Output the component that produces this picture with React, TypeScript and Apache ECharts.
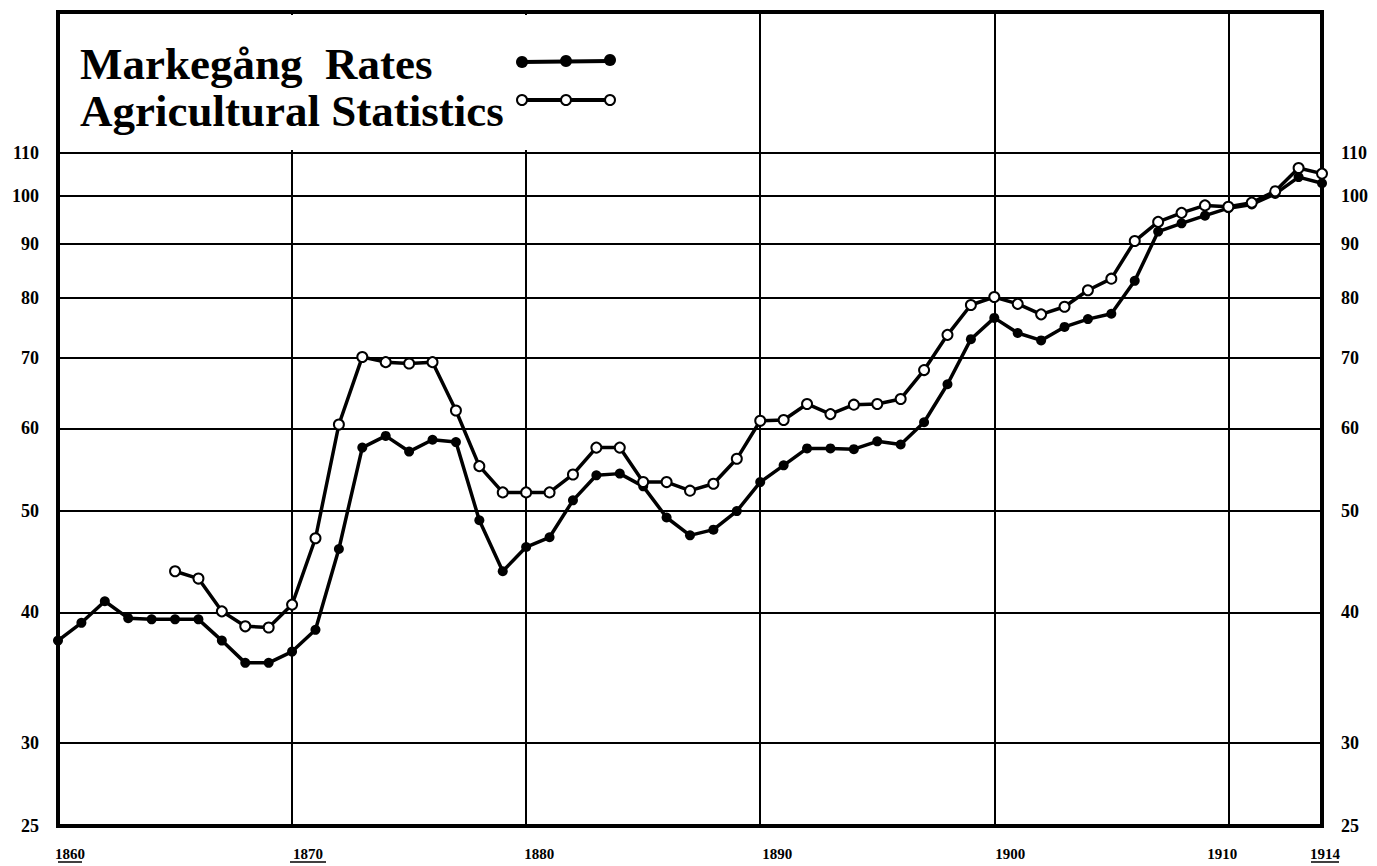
import React, { useEffect, useRef } from "react";
import * as echarts from "echarts";

const years = [
  1860, 1861, 1862, 1863, 1864, 1865, 1866, 1867, 1868, 1869,
  1870, 1871, 1872, 1873, 1874, 1875, 1876, 1877, 1878, 1879,
  1880, 1881, 1882, 1883, 1884, 1885, 1886, 1887, 1888, 1889,
  1890, 1891, 1892, 1893, 1894, 1895, 1896, 1897, 1898, 1899,
  1900, 1901, 1902, 1903, 1904, 1905, 1906, 1907, 1908, 1909,
  1910, 1911, 1912, 1913, 1914,
];

const markegangRates = [
  37.6, 39.1, 41.0, 39.5, 39.4, 39.4, 39.4, 37.6, 35.8, 35.8,
  36.7, 38.5, 46.0, 57.5, 59.0, 57.0, 58.5, 58.2, 49.0, 43.8,
  46.2, 47.2, 51.2, 54.1, 54.3, 52.8, 49.3, 47.4, 48.0, 50.0,
  53.3, 55.3, 57.4, 57.4, 57.3, 58.3, 57.9, 60.8, 66.1, 73.0,
  76.5, 74.0, 72.8, 75.0, 76.3, 77.2, 83.0, 92.5, 94.2, 95.8,
  97.4, 98.2, 100.5, 104.3, 102.9,
];

const agriculturalYears = [
  1865, 1866, 1867, 1868, 1869,
  1870, 1871, 1872, 1873, 1874, 1875, 1876, 1877, 1878, 1879,
  1880, 1881, 1882, 1883, 1884, 1885, 1886, 1887, 1888, 1889,
  1890, 1891, 1892, 1893, 1894, 1895, 1896, 1897, 1898, 1899,
  1900, 1901, 1902, 1903, 1904, 1905, 1906, 1907, 1908, 1909,
  1910, 1911, 1912, 1913, 1914,
];

const agriculturalStats = [
  43.8, 43.1, 40.1, 38.8, 38.7,
  40.7, 47.1, 60.5, 70.2, 69.4, 69.2, 69.4, 62.4, 55.2, 52.1,
  52.1, 52.1, 54.2, 57.5, 57.5, 53.3, 53.3, 52.3, 53.1, 56.1,
  61.0, 61.1, 63.3, 61.9, 63.2, 63.3, 64.0, 68.2, 73.7, 78.7,
  80.1, 78.9, 77.1, 78.4, 81.3, 83.4, 90.6, 94.5, 96.4, 98.0,
  97.7, 98.6, 101.1, 106.4, 105.1,
];

const yTickValues = [25, 30, 40, 50, 60, 70, 80, 90, 100, 110];
const xTickValues = [1860, 1870, 1880, 1890, 1900, 1910, 1914];
const legendNames = ["Markegång  Rates", "Agricultural Statistics"];

const SERIF = '"Liberation Serif", "DejaVu Serif", serif';

export default function App() {
  const ref = useRef<HTMLDivElement>(null);

  useEffect(() => {
    if (!ref.current) return;
    const chart = echarts.init(ref.current, null, { renderer: "svg" });

    const xLabelRich: Record<string, any> = {
      l1860: { padding: [0, 0, 0, 24] },
      l1870: { padding: [0, 0, 0, 32] },
      l1880: { padding: [0, 0, 0, 26] },
      l1890: { padding: [0, 0, 0, 34] },
      l1900: { padding: [0, 0, 0, 32] },
      l1910: { padding: [0, 12, 0, 0] },
      l1914: { padding: [0, 0, 0, 6] },
    };
    Object.keys(xLabelRich).forEach((k) => {
      xLabelRich[k] = {
        ...xLabelRich[k],
        fontFamily: SERIF,
        fontWeight: "bold",
        fontSize: 15,
        color: "#000",
      };
    });

    const yLabelStyle = {
      customValues: yTickValues,
      fontFamily: SERIF,
      fontWeight: "bold" as const,
      fontSize: 18,
      color: "#000",
      margin: 19,
    };

    const underline = (x1: number, x2: number) => ({
      type: "line",
      z: 60,
      shape: { x1, y1: 862, x2, y2: 862 },
      style: { stroke: "#000", lineWidth: 1.5 },
    });

    const openDot = (cx: number, cy: number) => ({
      type: "circle",
      z: 61,
      shape: { cx, cy, r: 5 },
      style: { fill: "#fff", stroke: "#000", lineWidth: 2 },
    });

    const filledDot = (cx: number, cy: number) => ({
      type: "circle",
      z: 61,
      shape: { cx, cy, r: 6 },
      style: { fill: "#000" },
    });

    chart.setOption({
      animation: false,
      backgroundColor: "#fff",
      grid: {
        left: 58,
        right: 55,
        top: 12,
        bottom: 40,
        show: true,
        borderColor: "#000",
        borderWidth: 4,
        backgroundColor: "#fff",
      },
      xAxis: {
        type: "value",
        min: 1860,
        max: 1914,
        axisLine: { show: false },
        axisTick: { show: false, customValues: xTickValues },
        splitLine: { show: true, lineStyle: { color: "#000", width: 2 } },
        axisLabel: {
          customValues: xTickValues,
          margin: 20,
          formatter: (v: number) => `{l${v}|${v}}`,
          rich: xLabelRich,
          fontFamily: SERIF,
          fontWeight: "bold",
          fontSize: 15,
          color: "#000",
        },
      },
      yAxis: [
        {
          type: "log",
          logBase: 10,
          min: 25,
          max: 150,
          position: "left",
          axisLine: { show: false },
          axisTick: { show: false, customValues: yTickValues },
          splitLine: { show: true, lineStyle: { color: "#000", width: 2 } },
          axisLabel: { ...yLabelStyle },
        },
        {
          type: "log",
          logBase: 10,
          min: 25,
          max: 150,
          position: "right",
          axisLine: { show: false },
          axisTick: { show: false, customValues: yTickValues },
          splitLine: { show: false },
          axisLabel: { ...yLabelStyle },
        },
      ],
      graphic: [
        {
          type: "rect",
          z: 50,
          shape: { x: 61, y: 15, width: 690, height: 135 },
          style: { fill: "#fff" },
        },
        {
          type: "text",
          z: 60,
          left: 80,
          top: 41,
          style: {
            text: legendNames[0],
            font: `bold 45px ${SERIF}`,
            fill: "#000",
          },
        },
        {
          type: "text",
          z: 60,
          left: 80,
          top: 88,
          style: {
            text: legendNames[1],
            font: `bold 45px ${SERIF}`,
            fill: "#000",
          },
        },
        {
          type: "line",
          z: 60,
          shape: { x1: 522, y1: 62, x2: 610, y2: 61 },
          style: { stroke: "#000", lineWidth: 4 },
        },
        filledDot(522, 62),
        filledDot(566, 61),
        filledDot(610, 60),
        {
          type: "line",
          z: 60,
          shape: { x1: 522, y1: 100, x2: 610, y2: 100 },
          style: { stroke: "#000", lineWidth: 4 },
        },
        openDot(522, 100),
        openDot(566, 100),
        openDot(610, 100),
        underline(58, 82),
        underline(290, 326),
        underline(1311, 1339),
      ],
      series: [
        {
          name: legendNames[0],
          type: "line",
          yAxisIndex: 0,
          data: years.map((y, i) => [y, markegangRates[i]]),
          symbol: "circle",
          symbolSize: 10,
          showAllSymbol: true,
          clip: false,
          lineStyle: { color: "#000", width: 3.5 },
          itemStyle: { color: "#000" },
          z: 3,
        },
        {
          name: legendNames[1],
          type: "line",
          yAxisIndex: 0,
          data: agriculturalYears.map((y, i) => [y, agriculturalStats[i]]),
          symbol: "circle",
          symbolSize: 10,
          showAllSymbol: true,
          clip: false,
          lineStyle: { color: "#000", width: 3.5 },
          itemStyle: { color: "#fff", borderColor: "#000", borderWidth: 2 },
          z: 4,
        },
      ],
    });

    return () => chart.dispose();
  }, []);

  return (
    <div
      ref={ref}
      style={{ position: "fixed", left: 0, top: 0, width: 1377, height: 866 }}
    />
  );
}
